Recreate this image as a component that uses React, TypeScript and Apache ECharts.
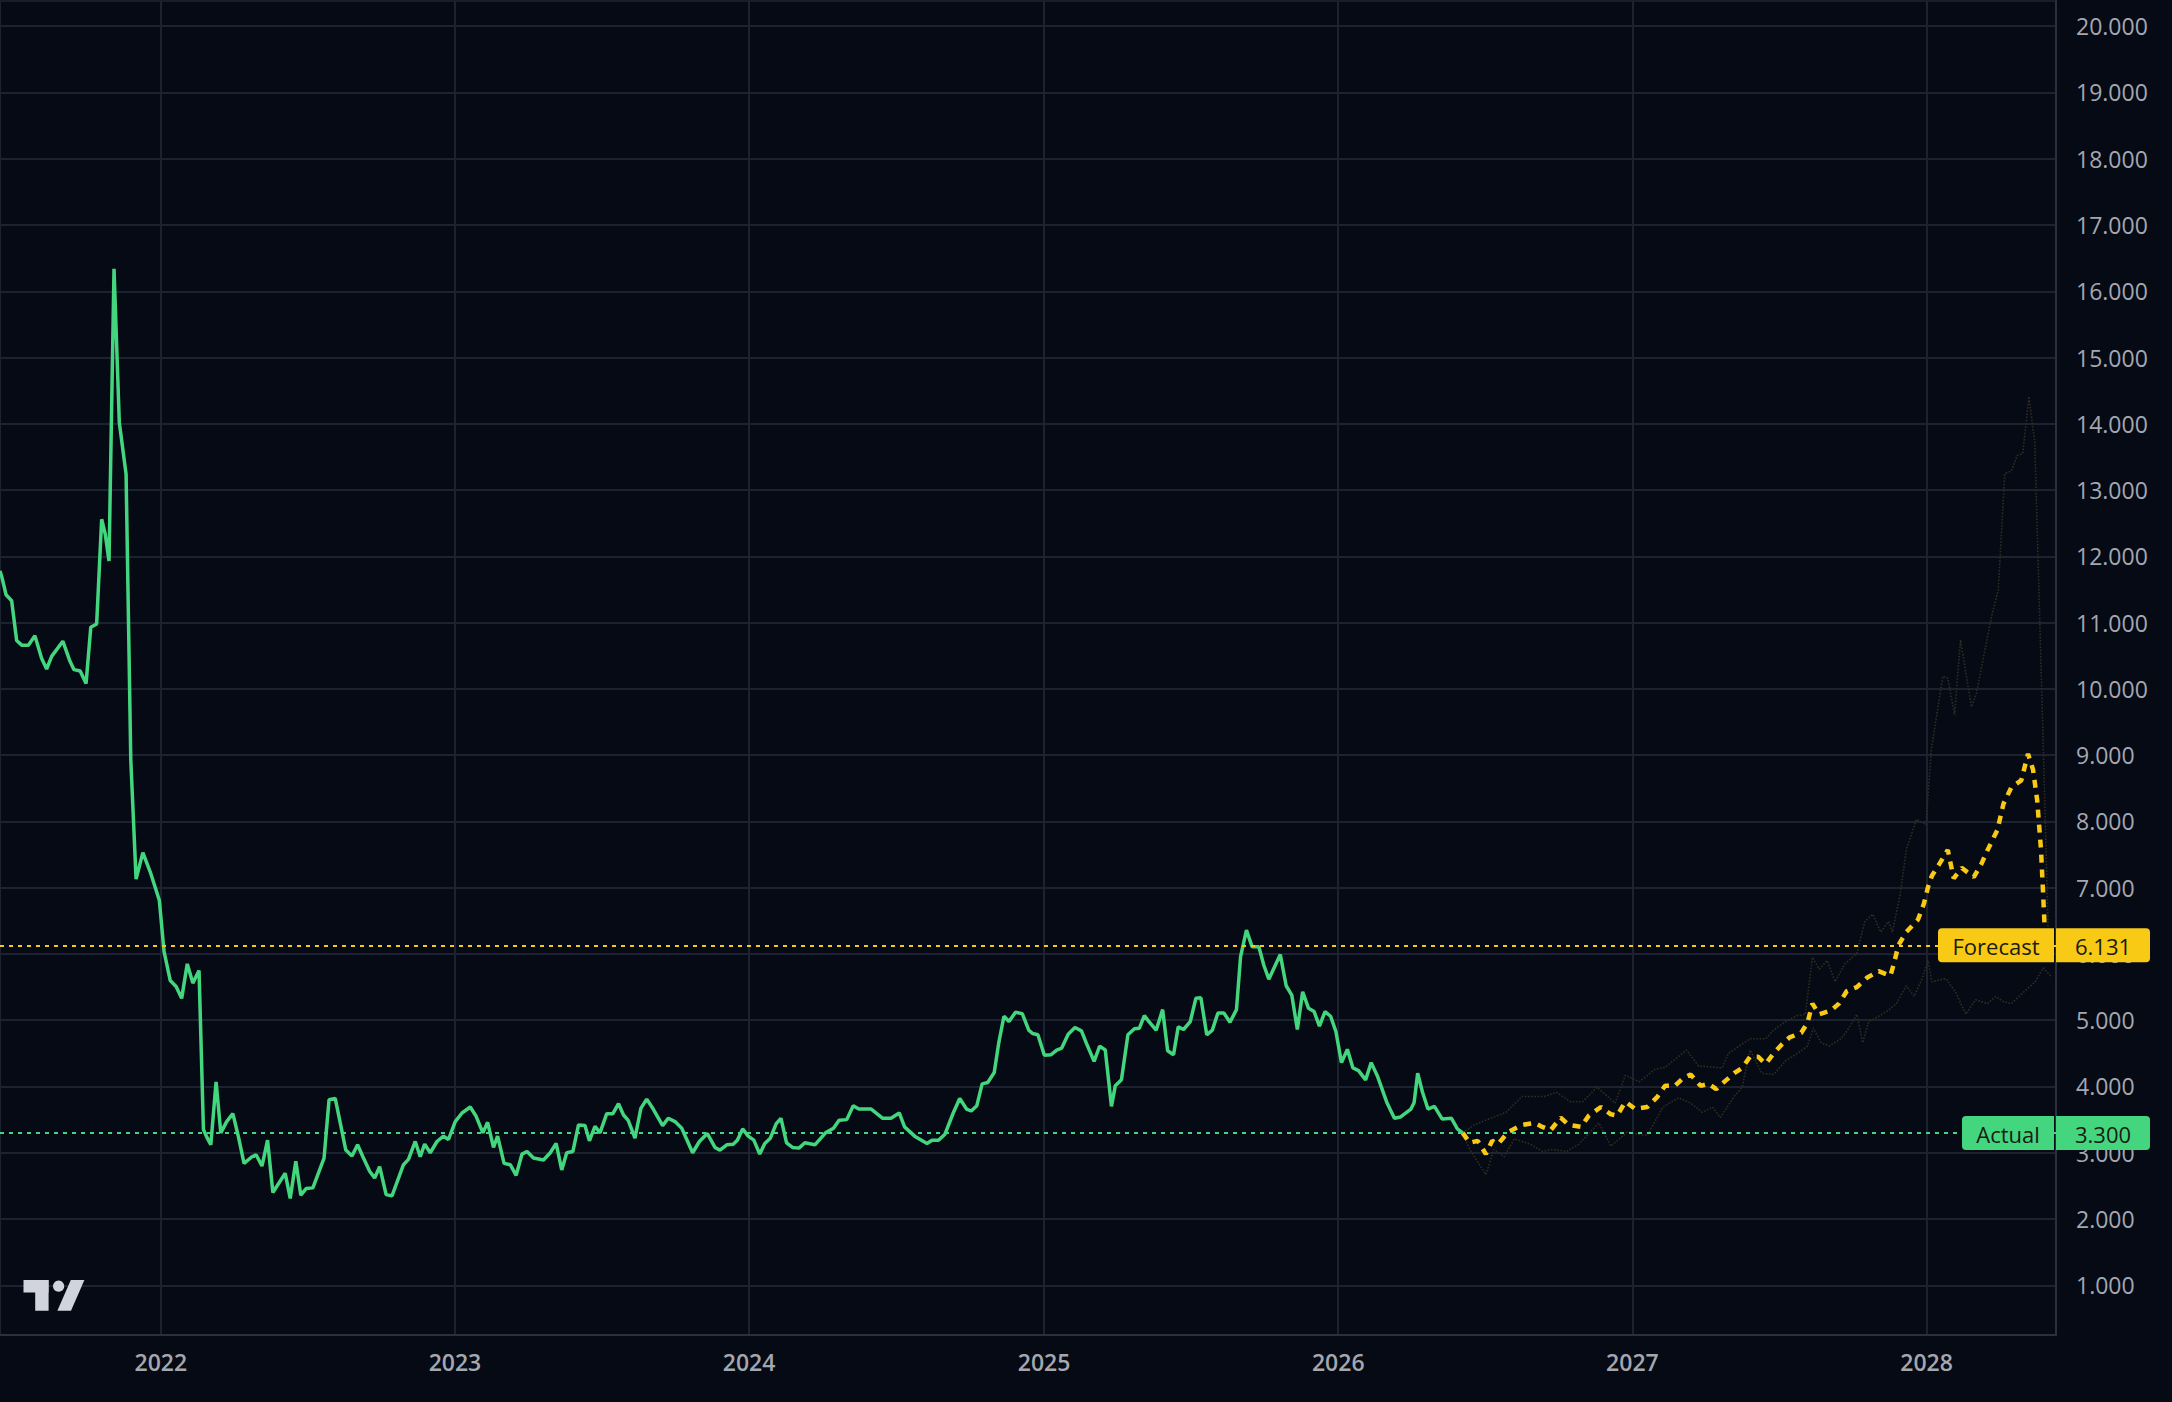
import React, { useEffect, useRef } from "react";
import * as echarts from "echarts";

// ---- data (x in decimal years, y in value units) ----
const actualSeries: [number, number][] = [
  [2021.453, 11.78], [2021.459, 11.70], [2021.474, 11.42], [2021.493, 11.33], [2021.510, 10.73], [2021.527, 10.66], [2021.550, 10.66],
  [2021.572, 10.80], [2021.595, 10.46], [2021.612, 10.30], [2021.629, 10.49], [2021.667, 10.72], [2021.691, 10.42],
  [2021.705, 10.29], [2021.726, 10.27], [2021.746, 10.08], [2021.762, 10.93], [2021.782, 10.98], [2021.799, 12.56],
  [2021.811, 12.34], [2021.824, 11.93], [2021.841, 16.34], [2021.859, 14.02], [2021.882, 13.24], [2021.898, 8.93],
  [2021.916, 7.13], [2021.939, 7.53], [2021.964, 7.24], [2021.995, 6.81], [2022.011, 6.04], [2022.032, 5.60],
  [2022.052, 5.51], [2022.071, 5.33], [2022.090, 5.85], [2022.109, 5.56], [2022.130, 5.75], [2022.145, 3.35],
  [2022.156, 3.24], [2022.170, 3.12], [2022.188, 4.07], [2022.204, 3.30], [2022.224, 3.47], [2022.245, 3.59],
  [2022.264, 3.24], [2022.283, 2.84], [2022.310, 2.94], [2022.324, 2.97], [2022.344, 2.80], [2022.363, 3.19],
  [2022.381, 2.40], [2022.423, 2.69], [2022.440, 2.31], [2022.459, 2.87], [2022.476, 2.36], [2022.494, 2.46],
  [2022.517, 2.47], [2022.555, 2.92], [2022.572, 3.80], [2022.593, 3.82], [2022.629, 3.04], [2022.650, 2.95],
  [2022.669, 3.12], [2022.687, 2.94], [2022.710, 2.72], [2022.727, 2.62], [2022.744, 2.79], [2022.766, 2.37],
  [2022.786, 2.35], [2022.825, 2.82], [2022.842, 2.90], [2022.865, 3.17], [2022.882, 2.94], [2022.897, 3.13],
  [2022.916, 3.00], [2022.939, 3.17], [2022.961, 3.25], [2022.978, 3.20], [2023.001, 3.47], [2023.024, 3.60],
  [2023.052, 3.69], [2023.072, 3.55], [2023.095, 3.30], [2023.111, 3.46], [2023.131, 3.08], [2023.145, 3.25],
  [2023.167, 2.84], [2023.188, 2.82], [2023.208, 2.66], [2023.228, 2.98], [2023.245, 3.02], [2023.267, 2.92],
  [2023.301, 2.89], [2023.324, 3.00], [2023.344, 3.14], [2023.363, 2.74], [2023.380, 3.00], [2023.401, 3.02],
  [2023.420, 3.42], [2023.442, 3.41], [2023.457, 3.18], [2023.476, 3.40], [2023.493, 3.30], [2023.516, 3.59],
  [2023.537, 3.59], [2023.556, 3.74], [2023.573, 3.57], [2023.589, 3.49], [2023.612, 3.22], [2023.632, 3.67],
  [2023.652, 3.81], [2023.674, 3.66], [2023.706, 3.41], [2023.725, 3.52], [2023.748, 3.47], [2023.771, 3.37],
  [2023.808, 3.00], [2023.831, 3.17], [2023.858, 3.29], [2023.884, 3.08], [2023.901, 3.04], [2023.924, 3.12],
  [2023.946, 3.13], [2023.960, 3.19], [2023.978, 3.36], [2023.997, 3.25], [2024.016, 3.19], [2024.036, 2.98],
  [2024.053, 3.14], [2024.072, 3.22], [2024.092, 3.44], [2024.108, 3.52], [2024.127, 3.15], [2024.147, 3.08],
  [2024.169, 3.07], [2024.189, 3.15], [2024.223, 3.12], [2024.259, 3.30], [2024.286, 3.37], [2024.305, 3.49],
  [2024.331, 3.50], [2024.353, 3.71], [2024.372, 3.66], [2024.414, 3.66], [2024.453, 3.52], [2024.481, 3.52],
  [2024.509, 3.60], [2024.527, 3.39], [2024.564, 3.24], [2024.603, 3.14], [2024.620, 3.19], [2024.642, 3.19],
  [2024.664, 3.28], [2024.692, 3.60], [2024.714, 3.82], [2024.737, 3.66], [2024.753, 3.63], [2024.772, 3.71],
  [2024.790, 4.04], [2024.809, 4.06], [2024.831, 4.21], [2024.846, 4.65], [2024.864, 5.06], [2024.881, 4.98],
  [2024.903, 5.12], [2024.926, 5.10], [2024.948, 4.85], [2024.961, 4.80], [2024.979, 4.78], [2025.001, 4.47],
  [2025.024, 4.48], [2025.043, 4.55], [2025.060, 4.58], [2025.082, 4.79], [2025.105, 4.89], [2025.127, 4.84],
  [2025.144, 4.65], [2025.170, 4.38], [2025.189, 4.61], [2025.208, 4.55], [2025.229, 3.70], [2025.242, 4.01],
  [2025.263, 4.10], [2025.285, 4.78], [2025.307, 4.87], [2025.324, 4.88], [2025.341, 5.07], [2025.358, 4.97],
  [2025.381, 4.85], [2025.403, 5.16], [2025.420, 4.54], [2025.440, 4.48], [2025.456, 4.90], [2025.474, 4.86],
  [2025.497, 4.98], [2025.516, 5.33], [2025.533, 5.34], [2025.553, 4.78], [2025.572, 4.85], [2025.591, 5.11],
  [2025.611, 5.11], [2025.632, 4.97], [2025.654, 5.16], [2025.668, 5.96], [2025.688, 6.36], [2025.707, 6.11],
  [2025.730, 6.11], [2025.747, 5.83], [2025.764, 5.62], [2025.803, 5.99], [2025.823, 5.52], [2025.842, 5.38],
  [2025.861, 4.86], [2025.879, 5.43], [2025.899, 5.18], [2025.918, 5.13], [2025.936, 4.91], [2025.955, 5.13],
  [2025.974, 5.06], [2025.992, 4.83], [2026.011, 4.36], [2026.031, 4.56], [2026.050, 4.28], [2026.069, 4.24],
  [2026.093, 4.10], [2026.112, 4.36], [2026.133, 4.16], [2026.166, 3.75], [2026.191, 3.52], [2026.212, 3.54],
  [2026.247, 3.66], [2026.258, 3.76], [2026.270, 4.20], [2026.286, 3.92], [2026.305, 3.66], [2026.327, 3.70],
  [2026.353, 3.51], [2026.385, 3.52], [2026.405, 3.36], [2026.423, 3.30],
];

const forecastSeries: [number, number][] = [
  [2026.423, 3.30], [2026.447, 3.15], [2026.474, 3.18], [2026.502, 2.98], [2026.523, 3.18], [2026.543, 3.13],
  [2026.577, 3.31], [2026.625, 3.42], [2026.667, 3.45], [2026.694, 3.39], [2026.722, 3.34], [2026.756, 3.53],
  [2026.783, 3.42], [2026.825, 3.39], [2026.852, 3.56], [2026.893, 3.69], [2026.927, 3.58], [2026.948, 3.56],
  [2026.976, 3.77], [2027.010, 3.66], [2027.050, 3.69], [2027.084, 3.84], [2027.111, 4.01], [2027.144, 4.01],
  [2027.171, 4.12], [2027.198, 4.18], [2027.232, 4.01], [2027.259, 4.04], [2027.285, 3.96], [2027.312, 4.07],
  [2027.346, 4.20], [2027.373, 4.28], [2027.400, 4.45], [2027.427, 4.45], [2027.453, 4.34], [2027.480, 4.50],
  [2027.507, 4.63], [2027.534, 4.74], [2027.574, 4.81], [2027.595, 4.96], [2027.612, 5.25], [2027.635, 5.09],
  [2027.676, 5.15], [2027.702, 5.25], [2027.729, 5.44], [2027.763, 5.50], [2027.797, 5.64], [2027.837, 5.74],
  [2027.877, 5.67], [2027.890, 5.87], [2027.904, 6.13], [2027.931, 6.33], [2027.971, 6.52], [2027.991, 6.76],
  [2028.005, 7.01], [2028.018, 7.18], [2028.045, 7.37], [2028.072, 7.57], [2028.092, 7.14], [2028.119, 7.30],
  [2028.160, 7.16], [2028.186, 7.36], [2028.207, 7.57], [2028.240, 7.87], [2028.261, 8.27], [2028.287, 8.51],
  [2028.321, 8.62], [2028.344, 9.02], [2028.361, 8.78], [2028.375, 8.32], [2028.388, 7.57], [2028.395, 6.92],
  [2028.403, 6.131],
];

const upperBand: [number, number][] = [
  [2026.423, 3.30], [2026.461, 3.42], [2026.570, 3.61], [2026.625, 3.85], [2026.701, 3.85], [2026.742, 3.91],
  [2026.790, 3.77], [2026.831, 3.77], [2026.880, 3.99], [2026.941, 3.75], [2026.976, 4.17], [2027.023, 4.07],
  [2027.077, 4.26], [2027.111, 4.29], [2027.184, 4.55], [2027.225, 4.31], [2027.305, 4.28], [2027.326, 4.50],
  [2027.400, 4.72], [2027.453, 4.72], [2027.480, 4.85], [2027.521, 4.98], [2027.561, 5.07], [2027.588, 5.09],
  [2027.612, 5.95], [2027.635, 5.77], [2027.662, 5.90], [2027.689, 5.58], [2027.722, 5.85], [2027.763, 6.01],
  [2027.790, 6.49], [2027.817, 6.60], [2027.844, 6.33], [2027.870, 6.49], [2027.884, 6.33], [2027.911, 6.92],
  [2027.931, 7.57], [2027.965, 8.03], [2027.998, 7.95], [2028.016, 9.08], [2028.055, 10.19], [2028.072, 10.16],
  [2028.095, 9.61], [2028.115, 10.74], [2028.152, 9.73], [2028.169, 9.93], [2028.220, 11.09], [2028.243, 11.49],
  [2028.265, 13.25], [2028.288, 13.29], [2028.307, 13.52], [2028.326, 13.55], [2028.347, 14.41], [2028.367, 13.71],
  [2028.396, 9.08], [2028.412, 6.40], [2028.425, 5.90],
];

const lowerBand: [number, number][] = [
  [2026.423, 3.30], [2026.447, 3.05], [2026.502, 2.67], [2026.529, 3.05], [2026.564, 2.94], [2026.598, 3.21],
  [2026.653, 3.13], [2026.694, 3.02], [2026.728, 3.05], [2026.776, 3.02], [2026.818, 3.13], [2026.886, 3.45],
  [2026.927, 3.10], [2026.982, 3.31], [2027.050, 3.26], [2027.104, 3.69], [2027.157, 3.83], [2027.198, 3.75],
  [2027.238, 3.61], [2027.272, 3.69], [2027.299, 3.53], [2027.346, 3.85], [2027.373, 3.99], [2027.400, 4.55],
  [2027.440, 4.20], [2027.480, 4.18], [2027.521, 4.39], [2027.561, 4.50], [2027.595, 4.61], [2027.615, 4.88],
  [2027.642, 4.66], [2027.669, 4.61], [2027.709, 4.72], [2027.736, 4.88], [2027.763, 5.09], [2027.783, 4.66],
  [2027.803, 4.98], [2027.830, 5.04], [2027.870, 5.15], [2027.897, 5.25], [2027.931, 5.52], [2027.958, 5.36],
  [2027.985, 5.63], [2028.005, 5.90], [2028.018, 5.58], [2028.065, 5.63], [2028.099, 5.42], [2028.133, 5.09],
  [2028.166, 5.31], [2028.207, 5.25], [2028.234, 5.36], [2028.261, 5.28], [2028.287, 5.25], [2028.328, 5.42],
  [2028.368, 5.58], [2028.395, 5.79], [2028.422, 5.66],
];

const yTicks = [1, 2, 3, 4, 5, 6, 7, 8, 9, 10, 11, 12, 13, 14, 15, 16, 17, 18, 19, 20];
const xRange = [2021.4534, 2028.4388];
const yRange = [0.25, 20.38];

// ---- styling ----
const BG = "#050a14";
const GRID = "#1d2230";
const AXIS = "#2a303e";
const TEXT = "#a4a7b0";
const GREEN = "#44d67f";
const YELLOW = "#f8c915";
const BAND = "#302d22";
const FONT = '"Open Sans", "Noto Sans", sans-serif';

const toTs = (y: number) => {
  const Y = Math.floor(y);
  const a = Date.UTC(Y, 0, 1);
  const b = Date.UTC(Y + 1, 0, 1);
  return a + (y - Y) * (b - a);
};
const conv = (arr: [number, number][]) => arr.map(([x, v]) => [toTs(x), v]);

export default function App() {
  const ref = useRef<HTMLDivElement>(null);
  useEffect(() => {
    if (!ref.current) return;
    const chart = echarts.init(ref.current, null, { renderer: "svg" });
    const actualLast = actualSeries[actualSeries.length - 1][1];
    const forecastLast = forecastSeries[forecastSeries.length - 1][1];
    const YEAR = 365 * 24 * 3600 * 1000;

    const option: any = {
      animation: false,
      useUTC: true,
      backgroundColor: BG,
      grid: {
        left: 0,
        right: 116,
        top: 1,
        bottom: 67,
        containLabel: false,
        outerBoundsMode: "none",
        show: true,
        borderColor: AXIS,
        borderWidth: 1,
        backgroundColor: "transparent",
      },
      xAxis: {
        type: "time",
        min: toTs(xRange[0]),
        max: toTs(xRange[1]),
        minInterval: YEAR,
        maxInterval: YEAR + 24 * 3600 * 1000,
        axisLine: { show: true, lineStyle: { color: AXIS, width: 2 } },
        axisTick: { show: false },
        axisLabel: {
          formatter: "{yyyy}",
          color: TEXT,
          fontSize: 23,
          fontWeight: 600,
          fontFamily: FONT,
          margin: 15,
          showMinLabel: false,
          showMaxLabel: false,
        },
        splitLine: { show: true, lineStyle: { color: GRID, width: 2 } },
      },
      yAxis: {
        type: "value",
        position: "right",
        min: yRange[0],
        max: yRange[1],
        axisLine: { show: true, lineStyle: { color: AXIS, width: 2 } },
        axisTick: { show: false, customValues: yTicks },
        axisLabel: {
          customValues: yTicks,
          formatter: (v: number) => v.toFixed(3),
          color: TEXT,
          fontSize: 23,
          fontFamily: FONT,
          margin: 20,
        },
        splitLine: { show: true, lineStyle: { color: GRID, width: 2 } },
      },
      series: [
        {
          name: "Upper",
          type: "line",
          data: conv(upperBand),
          showSymbol: false,
          symbol: "none",
          lineStyle: { color: BAND, width: 1.6, type: "dotted" },
          z: 1,
        },
        {
          name: "Lower",
          type: "line",
          data: conv(lowerBand),
          showSymbol: false,
          symbol: "none",
          lineStyle: { color: BAND, width: 1.6, type: "dotted" },
          z: 1,
        },
        {
          name: "Forecast",
          type: "line",
          data: conv(forecastSeries),
          showSymbol: false,
          symbol: "none",
          lineStyle: { color: YELLOW, width: 4.5, type: [8, 7] },
          z: 3,
          markLine: {
            silent: true,
            symbol: ["none", "none"],
            label: { show: false },
            lineStyle: { color: YELLOW, width: 2, type: [4, 5] },
            data: [{ yAxis: forecastLast }],
          },
        },
        {
          name: "Actual",
          type: "line",
          data: conv(actualSeries),
          showSymbol: false,
          symbol: "none",
          lineStyle: { color: GREEN, width: 3.5 },
          z: 4,
          markLine: {
            silent: true,
            symbol: ["none", "none"],
            label: { show: false },
            lineStyle: { color: GREEN, width: 2, type: [4, 5] },
            data: [{ yAxis: actualLast }],
          },
        },
      ],
    };
    chart.setOption(option);

    const yF = chart.convertToPixel({ yAxisIndex: 0 }, forecastLast) as number;
    const yA = chart.convertToPixel({ yAxisIndex: 0 }, actualLast) as number;
    const boxH = 34;
    const tag = (y: number, label: string, value: number, color: string, labelX: number) => [
      {
        type: "rect",
        z: 100,
        shape: { x: labelX, y: y - boxH / 2, width: 2054 - labelX, height: boxH, r: [4, 0, 0, 4] },
        style: { fill: color },
      },
      {
        type: "rect",
        z: 100,
        shape: { x: 2056, y: y - boxH / 2, width: 94, height: boxH, r: [0, 4, 4, 0] },
        style: { fill: color },
      },
      {
        type: "text",
        z: 101,
        style: {
          text: label,
          x: (labelX + 2054) / 2,
          y: y + 1,
          align: "center",
          verticalAlign: "middle",
          fill: "#1b1b14",
          fontSize: 22,
          fontFamily: FONT,
        },
      },
      {
        type: "text",
        z: 101,
        style: {
          text: value.toFixed(3),
          x: 2103,
          y: y + 1,
          align: "center",
          verticalAlign: "middle",
          fill: "#1b1b14",
          fontSize: 22,
          fontFamily: FONT,
        },
      },
    ];

    const LOGO = "#d1d4dc";
    chart.setOption({
      graphic: [
        ...tag(yF, "Forecast", forecastLast, YELLOW, 1938),
        ...tag(yA, "Actual", actualLast, GREEN, 1962),
        { type: "rect", z: 100, shape: { x: 23.5, y: 1280, width: 25, height: 12.5 }, style: { fill: LOGO } },
        { type: "rect", z: 100, shape: { x: 35.2, y: 1280, width: 13.4, height: 30.7 }, style: { fill: LOGO } },
        { type: "circle", z: 100, shape: { cx: 58.6, cy: 1286.2, r: 5.6 }, style: { fill: LOGO } },
        {
          type: "polygon",
          z: 100,
          shape: { points: [[70.8, 1280], [84.4, 1280], [71, 1310.7], [57.4, 1310.7]] },
          style: { fill: LOGO },
        },
      ],
    });

    return () => chart.dispose();
  }, []);

  return (
    <div
      ref={ref}
      style={{ position: "fixed", left: 0, top: 0, width: 2172, height: 1402, background: BG }}
    />
  );
}
